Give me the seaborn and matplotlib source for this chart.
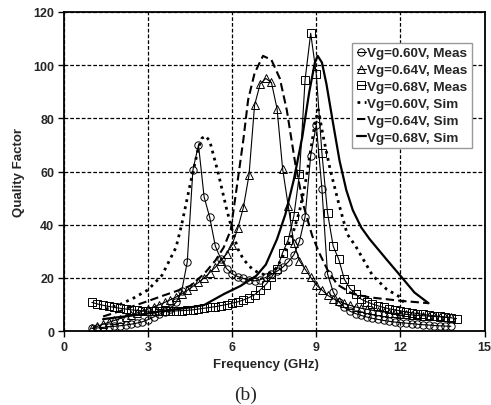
import numpy as np
import pandas as pd
import matplotlib
matplotlib.use("Agg")
import matplotlib.pyplot as plt
import seaborn as sns

# ---------------- data ----------------
f_start = 1.0
f_step = 0.2

q_meas60 = [1.0, 1.2, 1.4, 1.6, 1.8, 2.0, 2.3, 2.6, 3.0, 3.5,
            4.3, 5.3, 6.3, 7.3, 8.5, 10.8, 15.0, 26.0, 60.5, 70.0,
            50.5, 42.8, 32.0, 27.0, 23.5, 21.5, 20.5, 19.8, 19.2, 18.9,
            19.3, 20.2, 21.3, 22.5, 24.0, 26.0, 28.7, 33.8, 43.0, 66.0,
            77.5, 53.5, 21.5, 14.8, 11.0, 8.9, 7.5, 6.6, 5.9, 5.3,
            4.8, 4.4, 4.0, 3.7, 3.4, 3.2, 3.0, 2.8, 2.6, 2.4,
            2.3, 2.1, 2.0, 1.9, 1.8]

q_meas64 = [1.0, 1.8, 2.6, 3.3, 4.0, 4.7, 5.4, 6.1, 6.8, 7.5,
            8.3, 9.1, 9.9, 10.8, 11.8, 12.8, 14.0, 15.3, 16.8, 18.3,
            20.0, 22.0, 24.0, 26.5, 29.0, 32.5, 38.6, 46.5, 58.6, 85.0,
            93.0, 95.0, 93.5, 83.7, 61.0, 47.0, 33.0, 26.5, 23.3, 20.2,
            17.3, 15.5, 13.5, 12.2, 11.2, 10.4, 9.7, 9.1, 8.6, 8.2,
            7.8, 7.5, 7.2, 6.9, 6.7, 6.5, 6.3, 6.1, 5.9, 5.8,
            5.6, 5.5, 5.4, 5.3, 5.2]

q_meas68 = [10.8, 10.2, 9.7, 9.3, 8.9, 8.6, 8.3, 8.0, 7.8, 7.6,
            7.5, 7.4, 7.4, 7.4, 7.5, 7.6, 7.7, 7.8, 8.0, 8.3,
            8.6, 8.9, 9.2, 9.6, 10.0, 10.5, 11.0, 11.7, 12.6, 13.7,
            15.5, 17.5, 20.2, 23.5, 29.5, 34.3, 43.3, 59.0, 94.5, 112.0,
            96.6, 67.0, 44.5, 32.0, 27.0, 19.5, 16.0, 14.0, 12.0, 11.0,
            10.2, 9.5, 8.9, 8.4, 8.0, 7.6, 7.2, 6.9, 6.6, 6.3,
            6.0, 5.8, 5.5, 5.2, 5.0, 4.7]

f_sim60 = [1.5, 2.0, 2.5, 3.0, 3.5, 4.0, 4.2, 4.5, 4.8, 4.92, 5.05, 5.2,
           5.5, 5.8, 6.0, 6.2, 6.4, 6.7, 7.0, 7.2, 7.4, 7.6, 7.8, 8.0,
           8.2, 8.4, 8.6, 8.8, 8.95, 9.07, 9.25, 9.5, 9.8, 10.1, 10.4,
           10.7, 11.0, 11.5, 12.0, 12.2]
q_sim60 = [8.3, 10.0, 12.5, 15.5, 21.0, 31.5, 40.0, 55.0, 69.0, 72.5, 73.4, 71.5,
           59.6, 46.0, 38.0, 31.0, 27.0, 23.5, 21.5, 21.3, 22.0, 24.0, 28.0, 32.5,
           38.0, 45.0, 55.0, 68.0, 78.0, 83.3, 73.0, 60.5, 48.0, 36.5, 32.0,
           26.5, 21.0, 15.8, 12.7, 9.5]

f_sim64 = [1.4, 2.0, 2.5, 3.0, 3.5, 4.0, 4.5, 5.0, 5.4, 5.7, 5.95, 6.15,
           6.4, 6.57, 6.8, 7.1, 7.4, 7.7, 7.95, 8.25, 8.55, 8.85, 9.1, 9.4,
           9.75, 10.3, 10.9, 12.0, 13.0]
q_sim64 = [5.5, 7.5, 9.5, 11.3, 13.2, 15.0, 17.0, 21.5, 26.5, 31.5, 38.0, 53.0,
           72.0, 87.0, 97.0, 103.5, 102.0, 95.0, 83.0, 63.0, 47.0, 36.0, 29.5, 23.0,
           17.5, 14.0, 12.7, 11.4, 10.5]

f_sim68 = [1.4, 2.0, 2.85, 3.5, 4.5, 5.0, 5.7, 6.3, 6.86, 7.2, 7.6, 7.9,
           8.2, 8.5, 8.75, 8.95, 9.05, 9.2, 9.36, 9.6, 9.83, 10.07, 10.3,
           10.6, 10.9, 11.5, 12.0, 12.5, 13.0]
q_sim68 = [4.5, 5.3, 6.4, 7.5, 8.9, 9.8, 13.9, 17.0, 20.8, 25.0, 34.6, 44.0,
           57.0, 73.0, 90.0, 101.0, 103.5, 101.0, 93.0, 78.0, 64.0, 53.0, 45.5,
           39.0, 34.6, 27.0, 20.8, 14.5, 10.5]

labels = ["Vg=0.60V, Meas", "Vg=0.64V, Meas", "Vg=0.68V, Meas",
          "Vg=0.60V, Sim", "Vg=0.64V, Sim", "Vg=0.68V, Sim"]
x_ticks = [0, 3, 6, 9, 12, 15]
y_ticks = [0, 20, 40, 60, 80, 100, 120]


def meas_freq(vals):
    return [round(f_start + f_step * i, 2) for i in range(len(vals))]


# ---------------- style ----------------
sns.set_style("white")
plt.rcParams["font.family"] = ["Liberation Sans", "DejaVu Sans"]
plt.rcParams["font.weight"] = "bold"

fig = plt.figure(figsize=(4.91, 4.06), dpi=100)
ax = fig.add_axes([0.130, 0.182, 0.857, 0.786])

meas = [(q_meas60, "o"), (q_meas64, "^"), (q_meas68, "s")]
for (vals, mk), lab in zip(meas, labels[:3]):
    df = pd.DataFrame({"f": meas_freq(vals), "q": vals})
    sns.lineplot(data=df, x="f", y="q", ax=ax, color="black", lw=0.8,
                 marker=mk, markersize=5.3 if mk != "^" else 5.8,
                 markerfacecolor="none", markeredgecolor="black",
                 markeredgewidth=0.7, label=lab, sort=False, estimator=None)

sims = [(f_sim60, q_sim60, (0, (1, 1.6)), 2.0),
        (f_sim64, q_sim64, (0, (4, 2)), 1.5),
        (f_sim68, q_sim68, "-", 1.6)]
for (fs, qs, ls, lw), lab in zip(sims, labels[3:]):
    df = pd.DataFrame({"f": fs, "q": qs})
    sns.lineplot(data=df, x="f", y="q", ax=ax, color="black", lw=lw,
                 linestyle=ls, label=lab, sort=False, estimator=None)

ax.set_xlim(0, 15)
ax.set_ylim(0, 120)
ax.set_xticks(x_ticks)
ax.set_yticks(y_ticks)
ax.set_xticklabels([str(t) for t in x_ticks], fontsize=9, fontweight="bold")
ax.set_yticklabels([str(t) for t in y_ticks], fontsize=9, fontweight="bold")
ax.tick_params(axis="both", direction="out", length=4, width=1, color="black",
               bottom=True, left=True, pad=3)
ax.grid(True, color="black", linestyle=(0, (3, 1.6)), linewidth=0.9)
ax.set_axisbelow(True)
for sp in ax.spines.values():
    sp.set_visible(True)
    sp.set_color("black")
    sp.set_linewidth(1.3)

ax.set_xlabel("Frequency (GHz)", fontsize=9.5, fontweight="bold", labelpad=4)
ax.xaxis.set_label_coords(0.48, -0.085)
ax.set_ylabel("Quality Factor", fontsize=9.5, fontweight="bold", labelpad=6)

leg = ax.legend(loc="upper left", bbox_to_anchor=(0.686, 0.903), borderaxespad=0,
                fontsize=9.7, handlelength=0.7, handletextpad=0.1,
                labelspacing=0.33, borderpad=0.3, frameon=True, fancybox=False,
                framealpha=1, edgecolor="#999999")
leg.get_frame().set_linewidth(1.0)
for t in leg.get_texts():
    t.set_fontweight("bold")

fig.text(0.5, 0.006, "(b)", ha="center", va="bottom",
         fontsize=14, family=["Liberation Serif", "DejaVu Serif"], fontweight="normal")

fig.savefig("out.png", dpi=100)
